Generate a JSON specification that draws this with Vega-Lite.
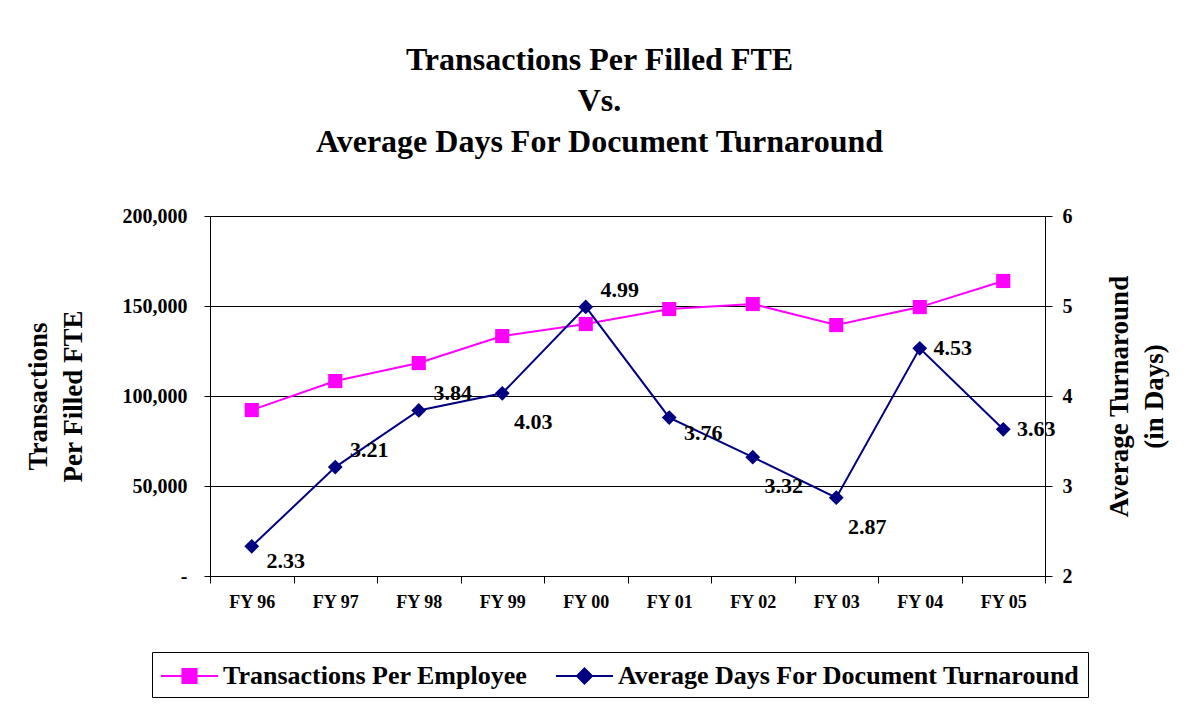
{
  "$schema": "https://vega.github.io/schema/vega-lite/v6.json",
  "autosize": "none",
  "width": 835,
  "height": 360,
  "padding": {"left": 210, "top": 216, "right": 142, "bottom": 140},
  "background": "white",
  "config": {
    "view": {"stroke": null},
    "font": "Liberation Serif",
    "axis": {"labelFont": "Liberation Serif", "titleFont": "Liberation Serif", "labelColor": "black", "titleColor": "black", "domainColor": "black", "tickColor": "black", "gridColor": "black", "labelFontWeight": "bold", "titleFontWeight": "bold"}
  },
  "title": {
    "text": ["Transactions Per Filled FTE", "Vs.", "Average Days For Document Turnaround"],
    "font": "Liberation Serif",
    "fontSize": 32,
    "fontWeight": "bold",
    "color": "black",
    "lineHeight": 41,
    "anchor": "middle",
    "frame": "group",
    "dx": -28,
    "offset": 47
  },
  "data": {
    "values": [
      {"year": "FY 96", "series": "Transactions Per Employee", "value": 92200},
      {"year": "FY 97", "series": "Transactions Per Employee", "value": 108300},
      {"year": "FY 98", "series": "Transactions Per Employee", "value": 118300},
      {"year": "FY 99", "series": "Transactions Per Employee", "value": 133300},
      {"year": "FY 00", "series": "Transactions Per Employee", "value": 140000},
      {"year": "FY 01", "series": "Transactions Per Employee", "value": 148300},
      {"year": "FY 02", "series": "Transactions Per Employee", "value": 151100},
      {"year": "FY 03", "series": "Transactions Per Employee", "value": 139400},
      {"year": "FY 04", "series": "Transactions Per Employee", "value": 149400},
      {"year": "FY 05", "series": "Transactions Per Employee", "value": 163900},
      {"year": "FY 96", "series": "Average Days For Document Turnaround", "value": 2.33, "pos": "below"},
      {"year": "FY 97", "series": "Average Days For Document Turnaround", "value": 3.21, "pos": "above"},
      {"year": "FY 98", "series": "Average Days For Document Turnaround", "value": 3.84, "pos": "above"},
      {"year": "FY 99", "series": "Average Days For Document Turnaround", "value": 4.03, "pos": "farbelow"},
      {"year": "FY 00", "series": "Average Days For Document Turnaround", "value": 4.99, "pos": "above"},
      {"year": "FY 01", "series": "Average Days For Document Turnaround", "value": 3.76, "pos": "below"},
      {"year": "FY 02", "series": "Average Days For Document Turnaround", "value": 3.32, "pos": "farbelow"},
      {"year": "FY 03", "series": "Average Days For Document Turnaround", "value": 2.87, "pos": "farbelow"},
      {"year": "FY 04", "series": "Average Days For Document Turnaround", "value": 4.53, "pos": "right"},
      {"year": "FY 05", "series": "Average Days For Document Turnaround", "value": 3.63, "pos": "right"}
    ]
  },
  "encoding": {
    "x": {
      "field": "year", "type": "ordinal", "sort": null, "title": null,
      "scale": {"paddingInner": 0, "paddingOuter": 0},
      "axis": {"labelAngle": 0, "labelFontSize": 18, "tickBand": "extent", "tickSize": 7, "labelPadding": 10, "domainWidth": 1}
    },
    "color": {
      "field": "series", "type": "nominal",
      "scale": {"domain": ["Transactions Per Employee", "Average Days For Document Turnaround"], "range": ["#FF00FF", "#000080"]},
      "legend": {
        "title": null,
        "orient": "none",
        "legendX": -58,
        "legendY": 436,
        "direction": "horizontal",
        "strokeColor": "black",
        "fillColor": "white",
        "padding": 8,
        "labelFont": "Liberation Serif",
        "labelFontSize": 26,
        "labelFontWeight": "bold",
        "labelColor": "black",
        "labelLimit": 700,
        "symbolSize": 900,
        "symbolStrokeWidth": 2,
        "labelOffset": 31,
        "columnPadding": 24,
        "encode": {
          "symbols": {
            "update": {
              "shape": {"signal": "datum.value === 'Transactions Per Employee' ? 'M-1,0H2.8M0.43,-0.47H1.37V0.47H0.43Z' : 'M-1,0H2.8M0.9,-0.5L1.4,0L0.9,0.5L0.4,0Z'"},
              "fill": {"signal": "datum.value === 'Transactions Per Employee' ? '#FF00FF' : '#000080'"},
              "stroke": {"signal": "datum.value === 'Transactions Per Employee' ? '#FF00FF' : '#000080'"},
              "strokeWidth": {"value": 2},
              "opacity": {"value": 1}
            }
          }
        }
      }
    }
  },
  "layer": [
    {
      "transform": [{"filter": "datum.series === 'Transactions Per Employee'"}],
      "encoding": {
        "y": {
          "field": "value", "type": "quantitative",
          "scale": {"domain": [0, 200000], "nice": false, "zero": true},
          "axis": {
            "title": ["Transactions", "Per Filled FTE"],
            "titleFontSize": 27,
            "titleLineHeight": 35,
            "titlePadding": 35,
            "labelFontSize": 20,
            "values": [0, 50000, 100000, 150000, 200000],
            "labelExpr": "datum.value === 0 ? '-' : format(datum.value, ',')",
            "grid": true,
            "gridWidth": 1,
            "tickSize": 6,
            "labelPadding": 17
          }
        }
      },
      "layer": [
        {"mark": {"type": "line", "strokeWidth": 2}},
        {"mark": {"type": "point", "shape": "square", "filled": true, "size": 200, "opacity": 1}}
      ]
    },
    {
      "transform": [{"filter": "datum.series === 'Average Days For Document Turnaround'"}],
      "encoding": {
        "y": {
          "field": "value", "type": "quantitative",
          "scale": {"domain": [2, 6], "nice": false, "zero": false},
          "axis": {
            "orient": "right",
            "title": ["Average Turnaround", "(in Days)"],
            "titleAngle": 270,
            "titleFontSize": 27,
            "titleLineHeight": 35,
            "titlePadding": 26,
            "labelFontSize": 20,
            "values": [2, 3, 4, 5, 6],
            "grid": false,
            "tickSize": 7,
            "labelPadding": 10
          }
        }
      },
      "layer": [
        {"mark": {"type": "line", "strokeWidth": 2}},
        {"mark": {"type": "point", "shape": "diamond", "filled": true, "size": 220, "opacity": 1}},
        {
          "transform": [{"filter": "datum.pos === 'above'"}],
          "mark": {"type": "text", "align": "center", "dx": 34, "dy": -17, "fontSize": 22, "fontWeight": "bold", "font": "Liberation Serif", "color": "black"},
          "encoding": {"text": {"field": "value", "type": "quantitative", "format": ".2f"}, "color": {"value": "black"}}
        },
        {
          "transform": [{"filter": "datum.pos === 'below'"}],
          "mark": {"type": "text", "align": "center", "dx": 34, "dy": 15, "fontSize": 22, "fontWeight": "bold", "font": "Liberation Serif", "color": "black"},
          "encoding": {"text": {"field": "value", "type": "quantitative", "format": ".2f"}, "color": {"value": "black"}}
        },
        {
          "transform": [{"filter": "datum.pos === 'farbelow'"}],
          "mark": {"type": "text", "align": "center", "dx": 31, "dy": 29, "fontSize": 22, "fontWeight": "bold", "font": "Liberation Serif", "color": "black"},
          "encoding": {"text": {"field": "value", "type": "quantitative", "format": ".2f"}, "color": {"value": "black"}}
        },
        {
          "transform": [{"filter": "datum.pos === 'right'"}],
          "mark": {"type": "text", "align": "center", "dx": 33, "dy": 0, "fontSize": 22, "fontWeight": "bold", "font": "Liberation Serif", "color": "black"},
          "encoding": {"text": {"field": "value", "type": "quantitative", "format": ".2f"}, "color": {"value": "black"}}
        }
      ]
    }
  ],
  "resolve": {"scale": {"y": "independent"}}
}
